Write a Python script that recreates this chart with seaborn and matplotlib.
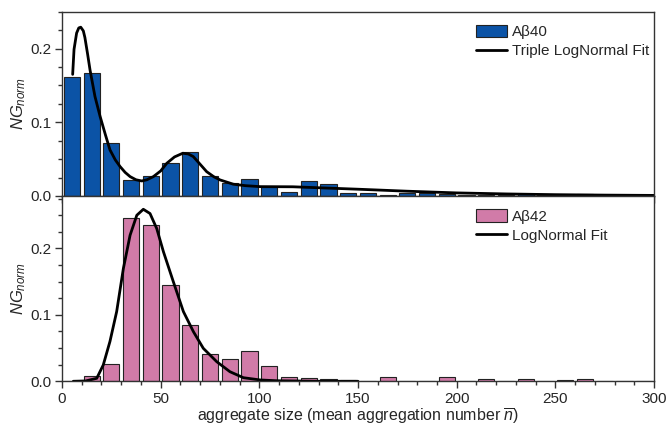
import numpy as np
import pandas as pd
import matplotlib
matplotlib.use("Agg")
import matplotlib.pyplot as plt
from matplotlib.patches import Patch
from matplotlib.lines import Line2D
from matplotlib.ticker import MultipleLocator
import seaborn as sns

# bin centres (10-wide bins, 0..300)
bins = [5 + 10 * i for i in range(30)]

# A-beta 40 histogram (normalised)
ab40 = [0.161, 0.167, 0.0717, 0.0213, 0.0268, 0.0444, 0.0594, 0.0272, 0.0172, 0.0227,
        0.0127, 0.0054, 0.020, 0.0168, 0.0036, 0.004, 0.002, 0.004, 0.004, 0.003,
        0.001, 0.001, 0.001, 0.003, 0.001, 0.001, 0.003, 0.001, 0.0005, 0.0005]

# A-beta 42 histogram (normalised)
ab42 = [0.001, 0.008, 0.0265, 0.2466, 0.235, 0.145, 0.0847, 0.0416, 0.033, 0.0456,
        0.023, 0.007, 0.0055, 0.004, 0.0025, 0.0, 0.006, 0.0, 0.0, 0.0065,
        0.0, 0.003, 0.0, 0.003, 0.0, 0.002, 0.004, 0.0, 0.0, 0.0]

# fit curves
fit40_x = [5.4, 6.1, 7.4, 8.5, 9.5, 10.8, 11.6, 13, 14.2, 16.7, 19.3, 22, 24.3, 27, 29.4,
           32, 34.5, 37.5, 40.4, 43, 46.3, 50, 53.1, 57, 61.2, 64, 66.5, 70, 73.3, 77,
           80.1, 86.8, 93, 100.4, 117, 134, 150, 175, 200, 225, 250, 275, 300]
fit40_y = [0.165, 0.199, 0.221, 0.228, 0.229, 0.224, 0.215, 0.192, 0.171, 0.135, 0.108,
           0.083, 0.0626, 0.049, 0.040, 0.032, 0.0263, 0.022, 0.0204, 0.022, 0.0263, 0.034,
           0.0444, 0.053, 0.058, 0.057, 0.0535, 0.043, 0.033, 0.026, 0.0218, 0.016, 0.014,
           0.0127, 0.0125, 0.0108, 0.0092, 0.0065, 0.0042, 0.0028, 0.0018, 0.0012, 0.0008]

fit42_x = [5.7, 12, 17.6, 20.9, 24.3, 27.7, 31.1, 34.5, 37.9, 41.2, 44.6, 48, 51.4, 56.4,
           61.5, 66.6, 71.6, 78.4, 85.1, 91.9, 100.4, 108.8, 130, 150]
fit42_y = [0.0, 0.0005, 0.0045, 0.0245, 0.06, 0.105, 0.17, 0.22, 0.25, 0.259, 0.2526, 0.23,
           0.195, 0.15, 0.105, 0.0746, 0.0496, 0.0295, 0.0144, 0.0054, 0.002, 0.0008, 0.0, 0.0]

blue = "#0b53a6"
pink = "#d17ba8"

sns.set_style("ticks")
plt.rcParams['font.family'] = ['Liberation Sans', 'DejaVu Sans']
plt.rcParams['mathtext.fontset'] = 'custom'
plt.rcParams['mathtext.rm'] = 'Liberation Sans'
plt.rcParams['mathtext.it'] = 'Liberation Sans:italic'

fig = plt.figure(figsize=(6.66, 4.32), dpi=100)
ax1 = fig.add_axes([0.0931, 0.5463, 0.889, 0.4266])
ax2 = fig.add_axes([0.0931, 0.1174, 0.889, 0.4289])

panels = [
    (ax1, ab40, blue, fit40_x, fit40_y, "A\u03b240", "Triple LogNormal Fit", 0.25),
    (ax2, ab42, pink, fit42_x, fit42_y, "A\u03b242", "LogNormal Fit", 0.279),
]

for ax, vals, col, fx, fy, lab, fitlab, ytop in panels:
    df = pd.DataFrame({"size": bins, "ng": vals})
    sns.barplot(data=df, x="size", y="ng", native_scale=True, width=0.82,
                color=col, saturation=1, edgecolor="#222222", linewidth=0.8,
                errorbar=None, ax=ax)
    fit = pd.DataFrame({"size": fx, "ng": fy})
    sns.lineplot(data=fit, x="size", y="ng", color="black", lw=2, ax=ax,
                 sort=False)
    ax.set_xlim(0, 300)
    ax.set_ylim(0, ytop)
    ax.xaxis.set_major_locator(MultipleLocator(50))
    ax.xaxis.set_minor_locator(MultipleLocator(10))
    ax.yaxis.set_major_locator(MultipleLocator(0.1))
    ax.yaxis.set_minor_locator(MultipleLocator(0.025))
    ax.tick_params(which="major", direction="out", length=5, width=1,
                   labelsize=11, pad=2.5, color="#333333")
    ax.tick_params(which="minor", direction="out", length=3, width=1,
                   color="#333333")
    for s in ax.spines.values():
        s.set_visible(True)
        s.set_color("#333333")
        s.set_linewidth(1)
    ax.set_ylabel(r"$NG_{norm}$", fontsize=12)
    ax.set_xlabel("")
    handles = [Patch(facecolor=col, edgecolor="#222222", linewidth=0.8),
               Line2D([0], [0], color="black", lw=2)]
    ax.legend(handles, [lab, fitlab], loc="upper left", bbox_to_anchor=(0.70, 0.93),
              frameon=False, fontsize=11, handlelength=2.0, handleheight=0.9,
              handletextpad=0.3, borderpad=0, borderaxespad=0, labelspacing=0.3)

ax1.tick_params(axis="x", labelbottom=False)
ax2.set_xlabel(r"aggregate size (mean aggregation number $\overline{n}$)",
               fontsize=11.5, labelpad=0)
ax1.yaxis.set_label_coords(-0.058, 0.5)
ax2.yaxis.set_label_coords(-0.058, 0.5)

fig.savefig("out.png", dpi=100)
